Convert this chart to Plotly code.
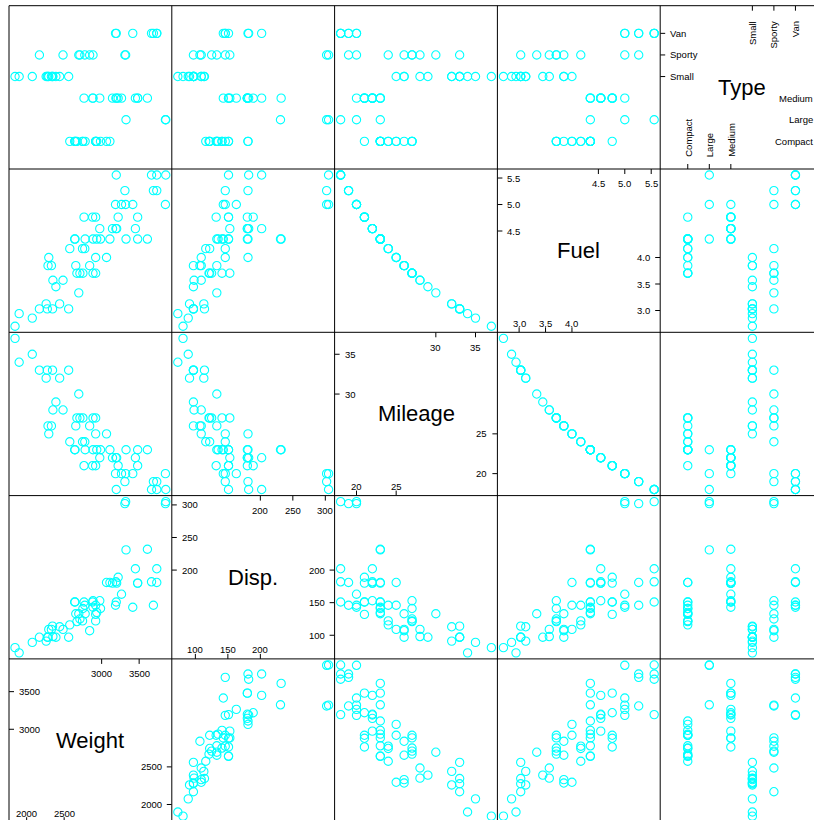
import plotly.graph_objects as go

# ---------------- data (car.test.frame) ----------------
weight = [2560, 2345, 1845, 2260, 2440, 2285, 2275, 2350, 2295, 1900, 2390, 2075, 2330,
          3320, 2885, 3310, 2695, 2170, 2710, 2775, 2840, 2485,
          2670, 2640, 2655, 3065, 2750, 2920, 2780, 2745, 3110, 2920, 2645, 2575, 2935, 2920, 2985,
          3265, 2880, 2975, 3450, 3145, 3190, 3610, 2885, 3480, 3200, 2765, 3220, 3480,
          3325, 3855, 3850,
          3195, 3735, 3665, 3735, 3415, 3185, 3690]
disp = [97, 114, 81, 91, 113, 97, 97, 98, 109, 73, 97, 89, 109,
        305, 153, 302, 133, 97, 125, 146, 107, 109,
        121, 151, 133, 181, 141, 132, 133, 122, 181, 146, 151, 116, 135, 122, 141,
        163, 151, 153, 202, 180, 182, 232, 143, 180, 180, 151, 189, 180,
        231, 305, 302,
        151, 202, 182, 181, 143, 146, 146]
mileage = [33, 33, 37, 32, 32, 26, 33, 28, 25, 34, 29, 35, 26,
           20, 27, 19, 30, 33, 27, 24, 26, 28,
           27, 23, 26, 25, 27, 21, 23, 24, 23, 25, 23, 24, 23, 27, 23,
           20, 21, 22, 22, 22, 22, 23, 23, 21, 22, 21, 21, 23,
           23, 18, 20,
           18, 18, 18, 19, 20, 20, 19]
fuel = [3.030, 3.030, 2.703, 3.125, 3.125, 3.846, 3.030, 3.571, 4.000, 2.941, 3.448, 2.857, 3.846,
        5.000, 3.704, 5.263, 3.333, 3.030, 3.704, 4.167, 3.846, 3.571,
        3.704, 4.348, 3.846, 4.000, 3.704, 4.762, 4.348, 4.167, 4.348, 4.000, 4.348, 4.167, 4.348, 3.704, 4.348,
        5.000, 4.762, 4.545, 4.545, 4.545, 4.545, 4.348, 4.348, 4.762, 4.545, 4.762, 4.762, 4.348,
        4.348, 5.556, 5.000,
        5.556, 5.556, 5.556, 5.263, 5.000, 5.000, 5.263]
car_type = (["Small"] * 13 + ["Sporty"] * 9 + ["Compact"] * 15 +
            ["Medium"] * 13 + ["Large"] * 3 + ["Van"] * 7)

type_levels = ["Compact", "Large", "Medium", "Small", "Sporty", "Van"]
var_names = ["Weight", "Disp.", "Mileage", "Fuel", "Type"]

weight_ticks = [2000, 2500, 3000, 3500]
disp_ticks = [100, 150, 200, 250, 300]
mileage_ticks = [20, 25, 30, 35]
fuel_ticks = [3.0, 3.5, 4.0, 4.5, 5.0, 5.5]
fuel_tick_labels = ["3.0", "3.5", "4.0", "4.5", "5.0", "5.5"]

# ---------------- helpers ----------------
type_code = [type_levels.index(t) + 1 for t in car_type]
columns = [weight, disp, mileage, fuel, type_code]

def padded(lo, hi, p=0.04):
    d = hi - lo
    return lo - p * d, hi + p * d

full_ranges = [padded(min(v), max(v)) for v in columns[:4]] + [padded(0, len(type_levels) + 1)]

tick_at = [weight_ticks, disp_ticks, mileage_ticks, fuel_ticks,
           list(range(1, len(type_levels) + 1))]
tick_txt = [[str(t) for t in weight_ticks], [str(t) for t in disp_ticks],
            [str(t) for t in mileage_ticks], fuel_tick_labels, type_levels]

W, H = 814, 820
X0, PW = 9.0, 162.8
Y0, PH = 5.7, 163.3
N = 5
CYAN = "#00FFFF"
FONT = "Liberation Sans, Arial, Helvetica, sans-serif"

fig = go.Figure()
layout = dict(width=W, height=H, margin=dict(l=0, r=0, t=0, b=0),
              paper_bgcolor="white", plot_bgcolor="white", showlegend=False)
annotations = []
shapes = []

def col_geom(j):
    left = X0 + PW * j
    right = left + PW
    vis_right = min(right, W)
    lo, hi = full_ranges[j]
    vhi = lo + (vis_right - left) / PW * (hi - lo)
    return (left / W, vis_right / W), (lo, vhi), right - vis_right

def row_geom(r):
    k = N - 1 - r
    top = Y0 + PH * k
    bottom = top + PH
    vis_bottom = min(bottom, H)
    lo, hi = full_ranges[r]
    vlo = hi - (vis_bottom - top) / PH * (hi - lo)
    return (1 - vis_bottom / H, 1 - top / H), (vlo, hi), bottom - vis_bottom

idx = 0
for r in range(N):
    for j in range(N):
        idx += 1
        xa = "x" if idx == 1 else f"x{idx}"
        ya = "y" if idx == 1 else f"y{idx}"
        xdom, xrng, xcut = col_geom(j)
        ydom, yrng, ycut = row_geom(r)
        axcommon = dict(showgrid=False, zeroline=False, showline=False,
                        showticklabels=False, ticks="", fixedrange=True)
        layout["xaxis" if idx == 1 else f"xaxis{idx}"] = dict(domain=list(xdom), range=list(xrng),
                                                             anchor=ya, **axcommon)
        layout["yaxis" if idx == 1 else f"yaxis{idx}"] = dict(domain=list(ydom), range=list(yrng),
                                                             anchor=xa, **axcommon)
        if r != j:
            fig.add_trace(go.Scatter(x=columns[j], y=columns[r], mode="markers",
                                     xaxis=xa, yaxis=ya, hoverinfo="skip",
                                     marker=dict(symbol="circle-open", size=8.3,
                                                 color=CYAN, line=dict(width=1.1, color=CYAN))))
            continue
        # diagonal panel: variable name + tick marks / labels
        lo, hi = full_ranges[j]
        vis_hi_x = xrng[1]
        vis_lo_y = yrng[0]
        xu = (hi - lo) / PW   # data units per pixel horizontally
        yu = (hi - lo) / PH   # vertically
        annotations.append(dict(x=(lo + hi) / 2, y=(lo + hi) / 2, xref=xa, yref=ya,
                                text=var_names[j], showarrow=False,
                                font=dict(family=FONT, size=22, color="black"),
                                xanchor="center", yanchor="middle"))
        at = tick_at[j]
        lab = tick_txt[j]
        n = len(at)
        h = (n + 1) // 2
        lower = list(range(h))
        upper = list(range(n - h, n))
        rot = j == 4
        tl = 5
        tfont = dict(family=FONT, size=9.5, color="black")
        # bottom (lower ticks)
        for i in lower:
            shapes.append(dict(type="line", xref=xa, yref=ya, x0=at[i], x1=at[i],
                               y0=vis_lo_y, y1=lo + tl * yu, line=dict(color="black", width=1)))
            if rot:
                annotations.append(dict(x=at[i], y=vis_lo_y, xref=xa, yref=ya, text=lab[i],
                                        showarrow=False, textangle=-90, font=tfont,
                                        xanchor="center", yanchor="bottom", yshift=10 - ycut))
            else:
                annotations.append(dict(x=at[i], y=vis_lo_y, xref=xa, yref=ya, text=lab[i],
                                        showarrow=False, font=tfont,
                                        xanchor="center", yanchor="middle", yshift=9 - ycut))
        # top (upper ticks)
        for i in upper:
            shapes.append(dict(type="line", xref=xa, yref=ya, x0=at[i], x1=at[i],
                               y0=hi, y1=hi - tl * yu, line=dict(color="black", width=1)))
            if rot:
                annotations.append(dict(x=at[i], y=hi, xref=xa, yref=ya, text=lab[i],
                                        showarrow=False, textangle=-90, font=tfont,
                                        xanchor="center", yanchor="top", yshift=-13))
            else:
                annotations.append(dict(x=at[i], y=hi, xref=xa, yref=ya, text=lab[i],
                                        showarrow=False, font=tfont,
                                        xanchor="center", yanchor="middle", yshift=-15))
        # left (upper ticks)
        for i in upper:
            shapes.append(dict(type="line", xref=xa, yref=ya, x0=lo, x1=lo + tl * xu,
                               y0=at[i], y1=at[i], line=dict(color="black", width=1)))
            annotations.append(dict(x=lo, y=at[i], xref=xa, yref=ya, text=lab[i],
                                    showarrow=False, font=tfont,
                                    xanchor="left", yanchor="middle", xshift=8))
        # right (lower ticks)
        for i in lower:
            if xcut < tl:
                shapes.append(dict(type="line", xref=xa, yref=ya, x0=vis_hi_x, x1=hi - tl * xu,
                                   y0=at[i], y1=at[i], line=dict(color="black", width=1)))
            annotations.append(dict(x=vis_hi_x, y=at[i], xref=xa, yref=ya, text=lab[i],
                                    showarrow=False, font=tfont,
                                    xanchor="right", yanchor="middle", xshift=-8 + xcut))

# panel borders
for j in range(N + 1):
    xp = X0 + PW * j
    if xp <= W:
        shapes.append(dict(type="line", xref="paper", yref="paper",
                           x0=xp / W, x1=xp / W, y0=0, y1=1 - Y0 / H,
                           line=dict(color="black", width=1)))
for k in range(N + 1):
    yp = Y0 + PH * k
    if yp <= H:
        shapes.append(dict(type="line", xref="paper", yref="paper",
                           x0=X0 / W, x1=1, y0=1 - yp / H, y1=1 - yp / H,
                           line=dict(color="black", width=1)))

layout["annotations"] = annotations
layout["shapes"] = shapes
fig.update_layout(**layout)

fig.write_html("out.html", config={"displayModeBar": False},
               post_script="document.body.style.margin='0';document.body.style.overflow='hidden';")
